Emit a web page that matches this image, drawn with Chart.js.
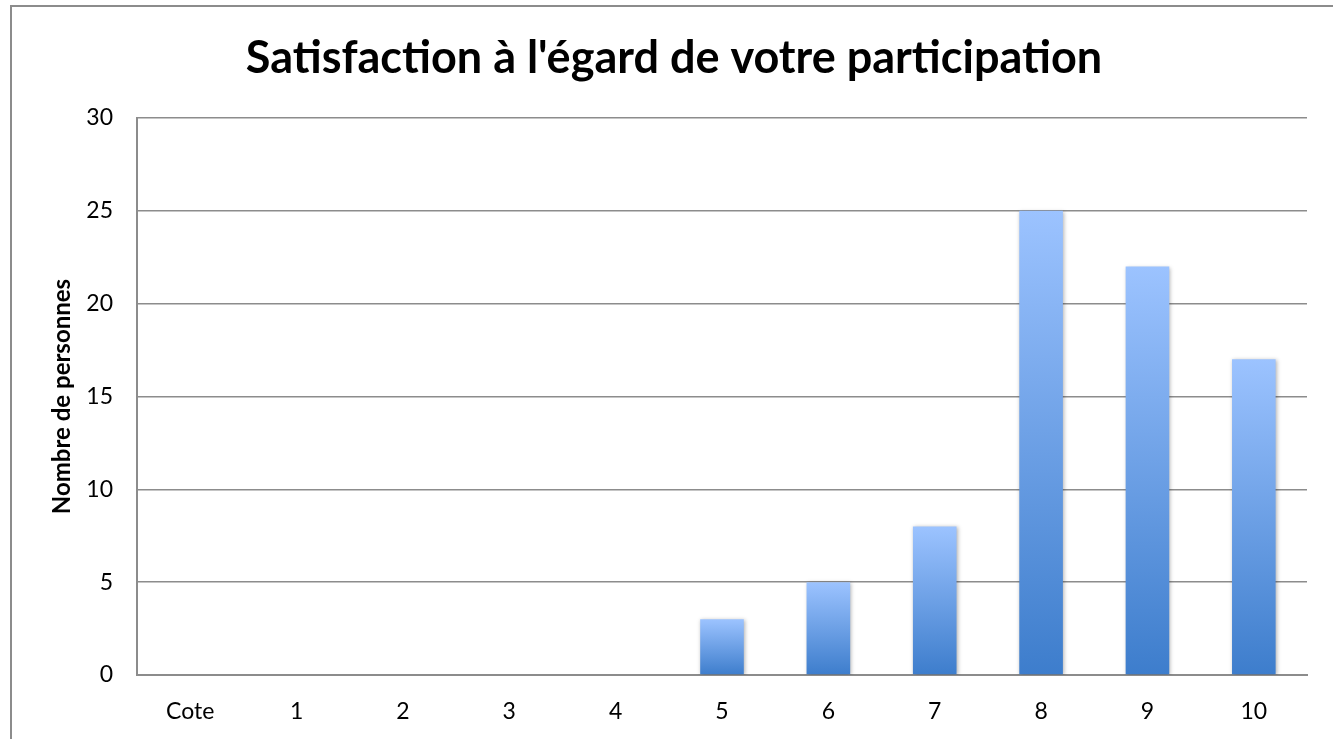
<!DOCTYPE html>
<html>
<head>
<meta charset="utf-8">
<script src="https://cdn.jsdelivr.net/npm/chart.js@4.4.1/dist/chart.umd.min.js"></script>
<style>
  html, body { margin: 0; padding: 0; background: #fff; overflow: hidden; }
  .frame { position: absolute; left: 10px; top: 5px; width: 1400px; height: 800px; border: 2px solid #8c8c8c; }
  .wrap { position: absolute; left: 0; top: 0; width: 1333px; height: 739px; }
</style>
</head>
<body>
<div class="frame"></div>
<div class="wrap"><canvas id="chart"></canvas></div>
<script>
const categories = ["Cote", "1", "2", "3", "4", "5", "6", "7", "8", "9", "10"];
const persons = [0, 0, 0, 0, 0, 3, 5, 8, 25, 22, 17];
const yTicks = [0, 5, 10, 15, 20, 25, 30];

const fontFamily = "Lato, 'Open Sans', sans-serif";

const barFill = (ctx) => {
    const chart = ctx.chart;
    const y = chart.scales.y;
    if (!y || ctx.parsed === undefined) return "#6f9fe6";
    const top = y.getPixelForValue(ctx.parsed.y);
    const bottom = y.getPixelForValue(0);
    if (!isFinite(top) || top === bottom) return "#6f9fe6";
    const g = chart.ctx.createLinearGradient(0, top, 0, bottom);
    g.addColorStop(0, "#9cc3ff");
    g.addColorStop(1, "#3d7dcc");
    return g;
};

const barShadow = {
    id: "barShadow",
    beforeDatasetsDraw(chart) {
        const c = chart.ctx;
        c.save();
        c.shadowColor = "rgba(0,0,0,0.3)";
        c.shadowBlur = 4;
        c.shadowOffsetX = 1;
        c.shadowOffsetY = 1;
    },
    afterDatasetsDraw(chart) {
        chart.ctx.restore();
    }
};

new Chart(document.getElementById("chart"), {
    type: "bar",
    data: {
        labels: categories,
        datasets: [{
            label: "Nombre de personnes",
            data: persons,
            backgroundColor: barFill,
            borderWidth: 0,
            categoryPercentage: 1,
            barPercentage: 0.41
        }]
    },
    options: {
        responsive: true,
        maintainAspectRatio: false,
        animation: false,
        layout: { padding: { top: 10, right: 26, bottom: 0, left: 41 } },
        plugins: {
            legend: { display: false },
            tooltip: { enabled: false },
            title: {
                display: true,
                text: "Satisfaction à l'égard de votre participation",
                color: "#000",
                font: { family: fontFamily, size: 45, weight: "bold" },
                padding: { top: 21, bottom: 33 }
            }
        },
        scales: {
            x: {
                grid: { display: false, drawTicks: false },
                border: { display: true, color: "#8c8c8c", width: 2 },
                ticks: { color: "#000", padding: 23, font: { family: fontFamily, size: 23 } },
                afterFit: (s) => { s.height = 64; }
            },
            y: {
                min: 0,
                max: 30,
                afterBuildTicks: (s) => { s.ticks = yTicks.map(v => ({ value: v })); },
                grid: { color: "#8c8c8c", lineWidth: 1.5, drawTicks: false },
                border: { display: true, color: "#8c8c8c", width: 2 },
                ticks: { color: "#000", padding: 24, font: { family: fontFamily, size: 23 } },
                title: {
                    display: true,
                    text: "Nombre de personnes",
                    color: "#000",
                    font: { family: fontFamily, size: 24, weight: "bold" },
                    padding: { top: 7, bottom: 0 }
                },
                afterFit: (s) => { s.width = 96; }
            }
        }
    },
    plugins: [barShadow]
});
</script>
</body>
</html>
